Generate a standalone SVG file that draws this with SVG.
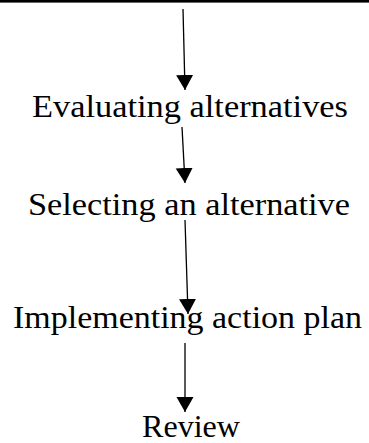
<svg xmlns="http://www.w3.org/2000/svg" width="369" height="443" viewBox="0 0 369 443">
<style>
.lbl{font-family:"Liberation Serif","DejaVu Serif",serif;font-size:32px;fill:#000;text-anchor:middle}
.conn{stroke:#000;stroke-width:1.3;fill:none}
</style>
<defs>
<marker id="ah" markerUnits="userSpaceOnUse" markerWidth="16" markerHeight="18" refX="15" refY="8.5" orient="auto" viewBox="0 0 16 18">
<path d="M0,0 L15,8.5 L0,17 Z" fill="#000"/>
</marker>
</defs>
<rect x="0" y="0" width="369" height="2.6" fill="#000"/>
<g id="connectors">
<line class="conn" x1="183" y1="9" x2="185" y2="90" marker-end="url(#ah)"/>
<line class="conn" x1="182" y1="127" x2="185" y2="183" marker-end="url(#ah)"/>
<line class="conn" x1="185" y1="220" x2="188" y2="314" marker-end="url(#ah)"/>
<line class="conn" x1="185" y1="343" x2="185" y2="412" marker-end="url(#ah)"/>
</g>
<g id="node-evaluating"><text class="lbl" x="190" y="117" textLength="316" lengthAdjust="spacingAndGlyphs">Evaluating alternatives</text></g>
<g id="node-selecting"><text class="lbl" x="189" y="215" textLength="322" lengthAdjust="spacingAndGlyphs">Selecting an alternative</text></g>
<g id="node-implementing"><text class="lbl" x="187.5" y="328" textLength="349" lengthAdjust="spacingAndGlyphs">Implementing action plan</text></g>
<g id="node-review"><text class="lbl" x="191" y="437" textLength="98" lengthAdjust="spacingAndGlyphs">Review</text></g>
</svg>
